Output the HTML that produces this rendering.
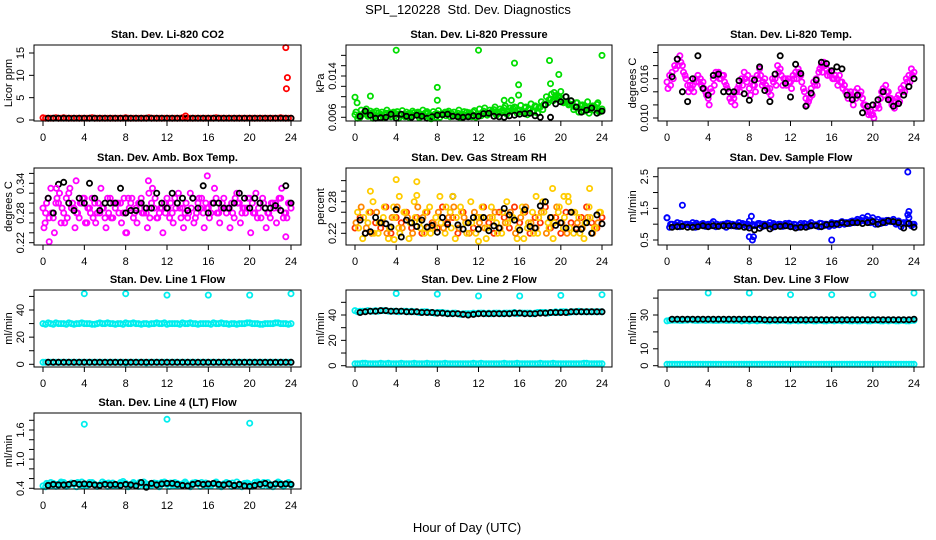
<!DOCTYPE html>
<html><head><meta charset="utf-8"><title>SPL_120228 Std. Dev. Diagnostics</title>
<style>
html,body{margin:0;padding:0;background:#fff;}
svg{display:block;font-family:"Liberation Sans",Arial,sans-serif;}
</style></head>
<body>
<svg id="chart" width="936" height="540" viewBox="0 0 936 540" xmlns="http://www.w3.org/2000/svg">
<rect x="0" y="0" width="936" height="540" fill="#fff"/>
<text x="468" y="14" text-anchor="middle" font-size="13" style="white-space:pre">SPL_120228  Std. Dev. Diagnostics</text>
<text x="467" y="532" text-anchor="middle" font-size="13">Hour of Day (UTC)</text>
</svg>
<script>
// ---- data ----
const xTicks=[0,4,8,12,16,20,24];
// CO2
const co2Red=[0.5,0.4,0.4,0.4,0.5,0.4,0.4,0.4,0.4,0.4,0.4,0.4,0.4,0.4,0.4,0.4,0.5,0.4,0.4,0.4,0.4,0.4,0.4,0.4,0.4,0.4,0.4,0.5,0.4,0.4,0.4,0.4,0.4,0.4,0.4,0.4,0.4,0.4,0.4,0.4,0.4,0.4,0.4,0.4,0.4,0.4,0.5,0.4,0.4];
const co2Red2=[0.4,0.4,0.5,0.4,0.4,0.4,0.4,0.4,0.4,0.5,0.4,0.4,0.4,0.4,0.4,0.4,0.4,0.4,0.4,0.4,0.5,0.4,0.4,0.4,0.4,0.4,0.4,0.4,0.4,0.4,0.4,0.4,0.4,0.5,0.4,0.4,0.4,0.4,0.4,0.4,0.4,0.4,0.4,0.4,0.4,0.4,0.4,0.4];
const co2Black=[0.4,0.4,0.4,0.4,0.4,0.4,0.4,0.4,0.4,0.4,0.4,0.4,0.4,0.4,0.4,0.4,0.4,0.4,0.4,0.4,0.4,0.4,0.4,0.4,0.4,0.4,0.4,0.4,0.4,0.4,0.4,0.4,0.4,0.4,0.4,0.4,0.4,0.4,0.4,0.4,0.4,0.4,0.4,0.4,0.4,0.4,0.4,0.4];
const co2OutHour=[23.5,23.65,23.55,13.8];
const co2OutVal=[16.2,9.5,7.0,0.9];
// Pressure
const presA=[0.0065,0.0060,0.0070,0.0072,0.0062,0.0066,0.0068,0.0061,0.0067,0.0064,0.0070,0.0063,0.0068,0.0066,0.0071,0.0062,0.0067,0.0065,0.0069,0.0063,0.0068,0.0066,0.0064,0.0070,0.0066,0.0072,0.0068,0.0075,0.0070,0.0078,0.0072,0.0080,0.0074,0.0078,0.0076,0.0082,0.0080,0.0085,0.0095,0.0102,0.0110,0.0100,0.0092,0.0088,0.0082,0.0078,0.0080,0.0085,0.0076];
const presB=[0.0058,0.0066,0.0062,0.0058,0.0068,0.0060,0.0063,0.0070,0.0058,0.0064,0.0060,0.0069,0.0059,0.0062,0.0058,0.0066,0.0060,0.0070,0.0061,0.0065,0.0059,0.0062,0.0068,0.0060,0.0063,0.0066,0.0070,0.0064,0.0072,0.0066,0.0074,0.0068,0.0070,0.0065,0.0072,0.0068,0.0075,0.0088,0.0092,0.0098,0.0088,0.0084,0.0075,0.0070,0.0072,0.0068,0.0074,0.0070];
const presC=[0.0070,0.0074,0.0076,0.0068,0.0072,0.0070,0.0074,0.0068,0.0071,0.0073,0.0066,0.0072,0.0070,0.0074,0.0068,0.0071,0.0073,0.0068,0.0072,0.0070,0.0074,0.0071,0.0069,0.0073,0.0076,0.0078,0.0074,0.0080,0.0076,0.0082,0.0078,0.0079,0.0083,0.0080,0.0086,0.0080,0.0090,0.0100,0.0105,0.0096,0.0094,0.0090,0.0085,0.0088,0.0084,0.0090,0.0082,0.0088];
const presD=[0.0062,0.0068,0.0064,0.0070,0.0060,0.0065,0.0069,0.0063,0.0066,0.0061,0.0068,0.0065,0.0062,0.0069,0.0064,0.0060,0.0066,0.0063,0.0068,0.0062,0.0065,0.0070,0.0061,0.0066,0.0069,0.0064,0.0072,0.0067,0.0074,0.0070,0.0077,0.0072,0.0068,0.0075,0.0070,0.0078,0.0085,0.0094,0.0108,0.0100,0.0090,0.0086,0.0080,0.0076,0.0082,0.0075,0.0079,0.0072];
const presBlack=[0.0062,0.0072,0.0064,0.0058,0.0059,0.0060,0.0066,0.0058,0.0066,0.0062,0.0060,0.0064,0.0062,0.0058,0.0061,0.0064,0.0065,0.0066,0.0062,0.0061,0.0060,0.0061,0.0063,0.0062,0.0067,0.0068,0.0062,0.0061,0.0060,0.0063,0.0064,0.0066,0.0067,0.0068,0.0063,0.0060,0.0084,0.0060,0.0086,0.0090,0.0100,0.0092,0.0080,0.0070,0.0074,0.0078,0.0068,0.0072];
const presOutHour=[0,0.2,1.5,4,8,8,12,14.5,15.2,15.5,15.9,15.9,18.9,19,19.8,24,7.4];
const presOutVal=[0.0099,0.0088,0.0101,0.0190,0.0118,0.0093,0.0190,0.0093,0.0093,0.0165,0.0123,0.0103,0.0170,0.0125,0.0143,0.0180,0.0057];
// Li-820 temp
const tempA=[0.0155,0.0170,0.0190,0.0180,0.0150,0.0150,0.0165,0.0155,0.0130,0.0160,0.0170,0.0165,0.0140,0.0130,0.0150,0.0170,0.0145,0.0150,0.0175,0.0160,0.0145,0.0160,0.0175,0.0160,0.0155,0.0170,0.0165,0.0130,0.0145,0.0160,0.0180,0.0175,0.0170,0.0160,0.0155,0.0140,0.0130,0.0145,0.0130,0.0110,0.0105,0.0120,0.0145,0.0140,0.0125,0.0135,0.0150,0.0165,0.0170];
const tempB=[0.0165,0.0180,0.0195,0.0165,0.0150,0.0160,0.0160,0.0140,0.0145,0.0170,0.0160,0.0150,0.0125,0.0140,0.0160,0.0155,0.0160,0.0165,0.0150,0.0145,0.0160,0.0180,0.0150,0.0160,0.0165,0.0175,0.0145,0.0125,0.0155,0.0170,0.0185,0.0170,0.0160,0.0165,0.0150,0.0135,0.0140,0.0135,0.0120,0.0110,0.0115,0.0130,0.0150,0.0130,0.0125,0.0145,0.0160,0.0175];
const tempC=[0.0145,0.0160,0.0180,0.0170,0.0140,0.0140,0.0155,0.0145,0.0120,0.0150,0.0160,0.0155,0.0130,0.0120,0.0140,0.0160,0.0135,0.0140,0.0165,0.0150,0.0135,0.0150,0.0165,0.0150,0.0145,0.0160,0.0155,0.0120,0.0135,0.0150,0.0170,0.0165,0.0160,0.0150,0.0145,0.0130,0.0120,0.0135,0.0120,0.0105,0.0100,0.0115,0.0135,0.0130,0.0115,0.0125,0.0140,0.0155];
const tempD=[0.0150,0.0175,0.0185,0.0160,0.0145,0.0155,0.0150,0.0135,0.0140,0.0165,0.0165,0.0145,0.0135,0.0145,0.0150,0.0165,0.0150,0.0160,0.0155,0.0140,0.0155,0.0170,0.0160,0.0155,0.0160,0.0170,0.0140,0.0130,0.0150,0.0175,0.0180,0.0165,0.0165,0.0155,0.0140,0.0140,0.0130,0.0140,0.0115,0.0105,0.0120,0.0140,0.0140,0.0120,0.0130,0.0140,0.0155,0.0165];
const tempBlack=[0.0163,0.0190,0.0140,0.0125,0.0160,0.0195,0.0145,0.0135,0.0165,0.0167,0.0140,0.0140,0.0140,0.0157,0.0137,0.0127,0.0158,0.0178,0.0142,0.0125,0.0167,0.0195,0.0153,0.0132,0.0182,0.0168,0.0118,0.0138,0.0158,0.0185,0.0183,0.0172,0.0178,0.0175,0.0135,0.0128,0.0135,0.0108,0.0118,0.0120,0.0128,0.0140,0.0128,0.0118,0.0122,0.0135,0.0148,0.0160];
// Amb box temp
const ambA=[0.29,0.31,0.27,0.30,0.28,0.32,0.29,0.27,0.31,0.29,0.30,0.28,0.27,0.31,0.29,0.30,0.28,0.30,0.29,0.31,0.28,0.30,0.27,0.29,0.31,0.28,0.30,0.29,0.27,0.31,0.30,0.28,0.29,0.30,0.28,0.31,0.29,0.27,0.30,0.29,0.31,0.28,0.30,0.29,0.27,0.30,0.31,0.28,0.29];
const ambB=[0.28,0.33,0.30,0.26,0.31,0.29,0.28,0.30,0.26,0.31,0.28,0.29,0.31,0.27,0.30,0.28,0.31,0.27,0.30,0.28,0.32,0.29,0.28,0.30,0.27,0.31,0.29,0.28,0.32,0.27,0.29,0.30,0.28,0.31,0.29,0.28,0.30,0.32,0.28,0.29,0.30,0.27,0.31,0.28,0.30,0.29,0.27,0.30];
const ambC=[0.25,0.27,0.24,0.32,0.26,0.33,0.25,0.30,0.26,0.28,0.26,0.33,0.25,0.27,0.30,0.26,0.24,0.31,0.26,0.28,0.25,0.33,0.27,0.24,0.29,0.26,0.32,0.25,0.28,0.26,0.31,0.25,0.27,0.33,0.26,0.29,0.25,0.31,0.26,0.28,0.24,0.32,0.27,0.25,0.30,0.26,0.33,0.27];
const ambD=[0.30,0.28,0.31,0.29,0.27,0.30,0.28,0.31,0.29,0.27,0.30,0.29,0.28,0.30,0.28,0.31,0.29,0.28,0.30,0.29,0.27,0.31,0.29,0.28,0.30,0.29,0.27,0.30,0.29,0.28,0.31,0.29,0.30,0.28,0.30,0.29,0.28,0.30,0.29,0.31,0.28,0.29,0.30,0.28,0.29,0.31,0.28,0.30];
const ambBlack=[0.31,0.28,0.338,0.342,0.30,0.285,0.31,0.30,0.34,0.31,0.285,0.30,0.30,0.30,0.33,0.28,0.285,0.285,0.30,0.29,0.29,0.32,0.30,0.29,0.32,0.30,0.31,0.285,0.31,0.29,0.335,0.28,0.30,0.30,0.29,0.29,0.30,0.32,0.31,0.29,0.31,0.30,0.29,0.29,0.295,0.285,0.335,0.30];
const ambOutHour=[0.6,15.9,3.2,23.5,8,10.2,0.2,1.3];
const ambOutVal=[0.222,0.355,0.345,0.232,0.24,0.345,0.26,0.33];
// Gas stream RH
const rhRed=[0.23,0.25,0.22,0.26,0.24,0.23,0.27,0.22,0.25,0.24,0.26,0.23,0.25,0.22,0.26,0.24,0.23,0.27,0.24,0.25,0.22,0.26,0.24,0.23,0.25,0.27,0.24,0.22,0.26,0.25,0.23,0.27,0.24,0.26,0.22,0.25,0.24,0.27,0.23,0.25,0.22,0.26,0.24,0.23,0.25,0.27,0.24,0.23,0.25];
const rhYellow=[0.26,0.21,0.24,0.28,0.22,0.25,0.21,0.27,0.23,0.26,0.21,0.28,0.24,0.22,0.27,0.23,0.29,0.22,0.26,0.21,0.27,0.24,0.28,0.22,0.25,0.21,0.27,0.24,0.22,0.28,0.25,0.21,0.27,0.23,0.26,0.22,0.28,0.24,0.21,0.26,0.23,0.28,0.22,0.25,0.21,0.27,0.23,0.26];
const rhOrange=[0.24,0.27,0.23,0.22,0.26,0.24,0.22,0.25,0.27,0.23,0.25,0.22,0.27,0.25,0.23,0.24,0.26,0.23,0.25,0.27,0.23,0.25,0.22,0.26,0.24,0.23,0.25,0.26,0.23,0.24,0.26,0.22,0.25,0.27,0.24,0.23,0.26,0.22,0.25,0.27,0.24,0.22,0.26,0.24,0.23,0.25,0.22,0.24];
const rhYellow2=[0.23,0.25,0.26,0.22,0.24,0.27,0.23,0.25,0.22,0.26,0.24,0.25,0.23,0.26,0.22,0.25,0.24,0.27,0.23,0.25,0.26,0.22,0.24,0.25,0.27,0.23,0.25,0.22,0.26,0.24,0.25,0.23,0.26,0.24,0.22,0.25,0.26,0.23,0.24,0.27,0.25,0.23,0.26,0.22,0.24,0.25,0.23,0.26];
const rhBlack=[0.245,0.22,0.223,0.25,0.24,0.238,0.232,0.265,0.213,0.245,0.24,0.233,0.245,0.232,0.235,0.222,0.25,0.237,0.29,0.236,0.228,0.24,0.25,0.228,0.25,0.225,0.234,0.23,0.267,0.255,0.245,0.226,0.265,0.233,0.23,0.272,0.28,0.25,0.235,0.24,0.23,0.26,0.228,0.228,0.24,0.22,0.255,0.238];
const rhOutHour=[1.5,4,4.3,6,6,9.5,17.6,19.2,20.3,20.7,22.8,12,3.8,16.4];
const rhOutVal=[0.30,0.322,0.29,0.318,0.292,0.29,0.29,0.305,0.29,0.29,0.305,0.205,0.208,0.21];
// Sample flow
const sfA=[1.2,1.0,1.05,0.95,1.0,1.05,0.98,1.02,1.0,1.08,0.95,1.0,1.02,0.98,1.05,1.0,1.1,0.95,1.02,1.0,1.05,0.98,1.0,1.02,1.0,0.98,1.02,1.0,1.05,0.98,1.02,1.0,1.05,1.02,1.08,1.05,1.1,1.15,1.2,1.25,1.2,1.15,1.1,1.12,1.15,1.1,1.05,1.2,1.0];
const sfB=[0.9,0.95,0.92,0.98,0.95,0.9,0.97,0.93,0.95,0.92,0.98,0.9,0.95,0.93,0.97,0.92,0.95,0.98,0.92,0.95,0.9,0.96,0.93,0.95,0.92,0.9,0.95,0.93,0.97,0.92,0.95,0.93,0.96,0.98,1.0,1.02,1.05,1.08,1.1,1.05,1.0,1.02,1.05,1.08,1.0,0.92,1.05,0.95];
const sfC=[1.0,0.98,1.02,1.0,0.97,1.03,1.0,0.98,1.02,1.0,0.97,1.03,1.0,0.98,1.02,1.0,0.99,1.02,1.0,0.97,1.02,1.0,0.98,1.03,1.0,0.97,1.02,1.0,0.98,1.03,1.0,0.98,1.02,1.05,1.05,1.08,1.1,1.12,1.15,1.12,1.08,1.1,1.12,1.1,1.05,1.0,1.02,1.0];
const sfBlack=[0.9,0.92,0.93,0.9,0.9,0.92,0.95,0.92,0.95,0.93,0.95,0.95,0.95,0.93,0.9,0.88,0.82,0.87,0.95,0.85,0.92,0.93,0.95,0.92,0.88,0.9,0.9,0.95,0.95,0.92,0.98,1.0,1.0,1.05,1.02,1.05,1.05,1.02,1.05,1.08,1.0,1.05,1.1,1.08,1.05,0.88,1.02,0.9];
const sfOutHour=[0,1.5,8,8.3,8.4,16,23.4,23.5,23.4,8.2];
const sfOutVal=[1.2,1.6,0.6,0.5,0.6,0.5,2.65,1.4,1.3,1.25];
// Line 1 flow
const l1High=[30,30.5,29.5,30,30,30.5,29.5,30,30,30,29.5,30.5,30,30,29.5,30,30.5,30,30,29.5,30,30,30.5,30,29.5,30,30,30.5,30,30,29.5,30,30,30.5,30,30,29.5,30,30,30,30.5,30,29.5,30,30,30.5,30,30,30];
const l1High2=[29.5,30,30.5,30,29.5,30,30,30.5,30,29.5,30,30,30.5,30,30,29.5,30,30.5,30,30,29.5,30,30,30.5,30,30,29.5,30,30.5,30,30,30,29.5,30,30.5,30,30,29.5,30,30.5,30,30,29.5,30,30,30.5,30,29.5];
const l1Low=[1.5,1.5,1.5,1.5,1.5,1.5,1.5,1.5,1.5,1.5,1.5,1.5,1.5,1.5,1.5,1.5,1.0,1.5,1.5,1.5,1.0,1.5,1.5,1.5,1.5,1.5,1.5,1.5,1.5,1.5,1.5,1.5,1.5,1.5,1.5,1.5,1.5,1.5,1.5,1.5,1.5,1.5,1.5,1.5,1.5,1.5,1.5,1.5,1.5];
const l1Low2=[1.5,1.5,1.5,1.5,1.5,1.5,1.5,1.5,1.5,1.5,1.5,1.5,1.5,1.5,1.5,1.5,1.5,1.5,1.5,1.5,1.5,1.5,1.5,1.5,1.5,1.5,1.5,1.5,1.5,1.5,1.5,1.5,1.5,1.5,1.5,1.5,1.5,1.5,1.5,1.5,1.5,1.5,1.5,1.5,1.5,1.5,1.5,1.5];
const l1Black=[1.5,1.5,1.5,1.5,1.5,1.5,1.5,1.5,1.5,1.5,1.5,1.5,1.5,1.5,1.5,1.5,1.5,1.5,1.5,1.5,1.5,1.5,1.5,1.5,1.5,1.5,1.5,1.5,1.5,1.5,1.5,1.5,1.5,1.5,1.5,1.5,1.5,1.5,1.5,1.5,1.5,1.5,1.5,1.5,1.5,1.5,1.5,1.5];
const l1OutHour=[4,8,12,16,20,24];
const l1OutVal=[52,52,51,51,51,52];
// Line 2 flow
const l2High=[43.5,43,43,43,43.5,43.5,43.5,43,43,43,43,43,42.5,42.5,42.5,42,42,42,41.5,41.5,41,41,41,41.5,41.5,41.5,41.5,41.5,41.5,41.5,41.5,42,41.5,41.5,41.5,41.5,42,42,42,42.5,42.5,42.5,42.5,42.5,42.5,42.5,42.5,42.5,42.5];
const l2High2=[42.5,43,43.5,43,43,43.5,43,43,42.5,43,42.5,42.5,42,42.5,42,41.5,42,41.5,41,41.5,40.5,41,41,41,41.5,41,41,41.5,41,41.5,41.5,41,41.5,41.5,41,42,42,41.5,42,42,42.5,42,42.5,43,42.5,42.5,42.5,42.5];
const l2Low=[1.5,1.5,2,1.5,1.5,2,1.5,1.5,1.5,2,1.5,1.5,1.5,1.5,2,1.5,1.5,1.5,1.5,1.5,1.5,1.5,1.5,2,1.5,1.5,1.5,1.5,1.5,2,1.5,1.5,1.5,1.5,1.5,1.5,2,1.5,1.5,1.5,1.5,1.5,1.5,1.5,1.5,2,1.5,1.5,1.5];
const l2Low2=[1.5,2,1.5,1.5,1.5,1.5,2,1.5,1.5,1.5,1.5,2,1.5,1.5,1.5,1.5,1.5,2,1.5,1.5,1.5,1.5,1.5,1.5,2,1.5,1.5,1.5,1.5,1.5,1.5,2,1.5,1.5,1.5,1.5,1.5,1.5,2,1.5,1.5,1.5,1.5,1.5,2,1.5,1.5,1.5];
const l2Black=[42,42.5,43,43,43.5,43.5,43,43,43,42.5,42.5,42.5,42,42,42,41.5,41.5,41,41,41,40.5,40,40.5,41,41,41,41,41,41,41,41.5,41.5,41,41,41,41.5,41.5,42,42,42,42,42.5,42.5,42.5,42.5,42.5,42.5,42.5];
const l2OutHour=[4,8,12,16,20,24];
const l2OutVal=[57,56.5,55,55,55.5,56];
// Line 3 flow
const l3High=[26.5,27,27,26.8,27,27,26.8,27,27,26.8,26.8,27,26.8,26.8,27,26.8,26.5,26.8,26.8,26.8,26.5,26.8,26.8,26.8,26.5,26.8,26.8,26.5,26.8,26.5,26.8,26.5,26.8,26.8,26.5,26.8,26.5,26.5,26.8,26.5,26.8,26.8,26.5,26.5,26.8,26.5,26.8,26.5,26.8];
const l3High2=[26.8,27,26.8,27,27.2,26.8,27,26.8,27,26.8,27,26.8,27,26.8,26.5,26.8,26.8,26.5,26.8,26.5,26.8,26.5,26.8,26.5,26.8,26.5,26.8,26.8,26.5,26.8,26.5,26.8,26.5,26.8,26.8,26.5,26.8,26.5,26.8,26.5,26.8,26.5,26.8,26.8,26.5,26.8,26.5,26.8];
const l3Low=[0.8,0.8,0.8,0.8,0.8,0.8,0.8,0.8,0.8,0.8,0.8,0.8,0.8,0.8,0.8,0.8,0.8,0.8,0.8,0.8,0.8,0.8,0.8,0.8,0.8,0.8,0.8,0.8,0.8,0.8,0.8,0.8,0.8,0.8,0.8,0.8,0.8,0.8,0.8,0.8,0.8,0.8,0.8,0.8,0.8,0.8,0.8,0.8,0.8];
const l3Low2=[0.8,0.8,0.8,0.8,0.8,0.8,0.8,0.8,0.8,0.8,0.8,0.8,0.8,0.8,0.8,0.8,0.8,0.8,0.8,0.8,0.8,0.8,0.8,0.8,0.8,0.8,0.8,0.8,0.8,0.8,0.8,0.8,0.8,0.8,0.8,0.8,0.8,0.8,0.8,0.8,0.8,0.8,0.8,0.8,0.8,0.8,0.8,0.8];
const l3Black=[27.5,27.5,27.5,27.5,27.5,27.5,27.5,27.5,27.5,27.5,27.5,27.5,27.5,27.5,27.5,27.5,27.5,27.5,27.2,27.2,27.2,27.2,27.2,27.2,27.2,27.2,27.2,27.2,27.2,27.2,27.2,27.2,27.2,27.2,27.2,27.2,27.2,27.2,27.2,27.2,27.2,27.2,27.2,27.2,27.2,27.2,27.2,27.5];
const l3OutHour=[4,8,12,16,20,24];
const l3OutVal=[43,43,42,42,42,43];
// Line 4 flow
const l4A=[0.45,0.48,0.5,0.46,0.52,0.47,0.49,0.5,0.46,0.52,0.48,0.47,0.5,0.49,0.46,0.52,0.5,0.48,0.47,0.51,0.49,0.46,0.5,0.52,0.48,0.47,0.5,0.49,0.46,0.51,0.5,0.48,0.47,0.5,0.45,0.49,0.5,0.46,0.48,0.5,0.47,0.52,0.49,0.5,0.46,0.48,0.5,0.49,0.47];
const l4B=[0.43,0.52,0.44,0.53,0.44,0.51,0.43,0.53,0.45,0.52,0.44,0.53,0.44,0.51,0.45,0.54,0.43,0.52,0.44,0.53,0.45,0.51,0.43,0.53,0.44,0.52,0.45,0.53,0.43,0.52,0.44,0.51,0.45,0.53,0.43,0.52,0.44,0.53,0.43,0.51,0.44,0.53,0.45,0.52,0.43,0.53,0.44,0.52];
const l4C=[0.5,0.45,0.48,0.51,0.46,0.49,0.52,0.45,0.48,0.5,0.46,0.49,0.51,0.45,0.48,0.5,0.46,0.49,0.52,0.45,0.48,0.5,0.46,0.49,0.51,0.45,0.48,0.5,0.46,0.49,0.52,0.45,0.48,0.5,0.46,0.49,0.51,0.45,0.48,0.5,0.46,0.49,0.52,0.45,0.48,0.5,0.46,0.49];
const l4Black=[0.46,0.48,0.47,0.47,0.48,0.5,0.48,0.49,0.48,0.47,0.46,0.48,0.47,0.48,0.46,0.48,0.47,0.45,0.52,0.42,0.5,0.47,0.49,0.5,0.5,0.48,0.46,0.45,0.48,0.5,0.48,0.49,0.5,0.48,0.47,0.49,0.46,0.48,0.45,0.44,0.46,0.48,0.5,0.47,0.49,0.48,0.49,0.48];
const l4OutHour=[4,12,20];
const l4OutVal=[1.72,1.82,1.74];

// ---- layout ----
const cols=[{L:34,R:301},{L:346,R:612},{L:658,R:924}];
const rows=[{T:45,B:121},{T:168,B:245},{T:290,B:367},{T:413,B:489}];
const NS='http://www.w3.org/2000/svg';
const svg=document.getElementById('chart');
function mk(tag,attrs,parent){const e=document.createElementNS(NS,tag);for(const k in attrs)e.setAttribute(k,attrs[k]);(parent||svg).appendChild(e);return e;}

const CY='#00eeee';
const panels=[
 {name:'co2',title:'Stan. Dev. Li-820 CO2',ylab:'Licor ppm',c:0,r:0,y0:0,py0:120,y1:15,py1:53,ticks:[0,5,10,15],labels:['0','5','10','15'],
  series:[{v:co2Red,s:0,d:0.5,col:'#ff0000'},{v:co2Red2,s:0.25,d:0.5,col:'#ff0000'},{v:co2Black,s:0.5,d:0.5,col:'#000'}],out:{h:co2OutHour,v:co2OutVal,col:'#ff0000'}},
 {name:'pressure',title:'Stan. Dev. Li-820 Pressure',ylab:'kPa',c:1,r:0,y0:0.006,py0:117.3,y1:0.014,py1:76,ticks:[0.006,0.008,0.010,0.012,0.014,0.016,0.018],labels:['0.006','','','','0.014','',''],
  series:[{v:presA,s:0,d:0.5,col:'#00dd00'},{v:presB,s:0.25,d:0.5,col:'#00dd00'},{v:presC,s:0.1,d:0.5,col:'#00dd00'},{v:presD,s:0.35,d:0.5,col:'#00dd00'},{v:presBlack,s:0.5,d:0.5,col:'#000'}],out:{h:presOutHour,v:presOutVal,col:'#00dd00'}},
 {name:'li820-temp',title:'Stan. Dev. Li-820 Temp.',ylab:'degrees C',c:2,r:0,y0:0.010,py0:118,y1:0.016,py1:78.7,ticks:[0.010,0.012,0.014,0.016,0.018,0.020],labels:['0.010','','','0.016','',''],
  series:[{v:tempA,s:0,d:0.5,col:'#ff00ff'},{v:tempB,s:0.25,d:0.5,col:'#ff00ff'},{v:tempC,s:0.1,d:0.5,col:'#ff00ff'},{v:tempD,s:0.35,d:0.5,col:'#ff00ff'},{v:tempBlack,s:0.5,d:0.5,col:'#000'}],out:null},
 {name:'amb-box-temp',title:'Stan. Dev. Amb. Box Temp.',ylab:'degrees C',c:0,r:1,y0:0.22,py0:242.7,y1:0.34,py1:183.3,ticks:[0.22,0.24,0.26,0.28,0.30,0.32,0.34,0.36],labels:['0.22','','','0.28','','','0.34',''],
  series:[{v:ambA,s:0,d:0.5,col:'#ff00ff'},{v:ambB,s:0.25,d:0.5,col:'#ff00ff'},{v:ambC,s:0.1,d:0.5,col:'#ff00ff'},{v:ambD,s:0.35,d:0.5,col:'#ff00ff'},{v:ambBlack,s:0.5,d:0.5,col:'#000'}],out:{h:ambOutHour,v:ambOutVal,col:'#ff00ff'}},
 {name:'gas-stream-rh',title:'Stan. Dev. Gas Stream RH',ylab:'percent',c:1,r:1,y0:0.22,py0:233.3,y1:0.28,py1:201.7,ticks:[0.22,0.24,0.26,0.28,0.30,0.32],labels:['0.22','','','0.28','',''],
  series:[{v:rhRed,s:0,d:0.5,col:'#ff3300'},{v:rhYellow,s:0.25,d:0.5,col:'#ffcc00'},{v:rhOrange,s:0.1,d:0.5,col:'#ff8800'},{v:rhYellow2,s:0.35,d:0.5,col:'#ffcc00'},{v:rhBlack,s:0.5,d:0.5,col:'#000'}],out:{h:rhOutHour,v:rhOutVal,col:'#ffcc00'}},
 {name:'sample-flow',title:'Stan. Dev. Sample Flow',ylab:'ml/min',c:2,r:1,y0:0.5,py0:240,y1:2.5,py1:176.7,ticks:[0.5,1.0,1.5,2.0,2.5],labels:['0.5','','1.5','','2.5'],
  series:[{v:sfA,s:0,d:0.5,col:'#0000ff'},{v:sfB,s:0.25,d:0.5,col:'#0000ff'},{v:sfC,s:0.35,d:0.5,col:'#0000ff'},{v:sfBlack,s:0.5,d:0.5,col:'#000'}],out:{h:sfOutHour,v:sfOutVal,col:'#0000ff'}},
 {name:'line1-flow',title:'Stan. Dev. Line 1 Flow',ylab:'ml/min',c:0,r:2,y0:0,py0:364.3,y1:40,py1:310,ticks:[0,10,20,30,40,50],labels:['0','','20','','40',''],
  series:[{v:l1High,s:0,d:0.5,col:CY},{v:l1High2,s:0.25,d:0.5,col:CY},{v:l1Low,s:0,d:0.5,col:CY},{v:l1Low2,s:0.25,d:0.5,col:CY},{v:l1Black,s:0.5,d:0.5,col:'#000'}],out:{h:l1OutHour,v:l1OutVal,col:CY}},
 {name:'line2-flow',title:'Stan. Dev. Line 2 Flow',ylab:'ml/min',c:1,r:2,y0:0,py0:365.7,y1:40,py1:315,ticks:[0,10,20,30,40,50],labels:['0','','20','','40',''],
  series:[{v:l2High,s:0,d:0.5,col:CY},{v:l2High2,s:0.25,d:0.5,col:CY},{v:l2Low,s:0,d:0.5,col:CY},{v:l2Low2,s:0.25,d:0.5,col:CY},{v:l2Black,s:0.5,d:0.5,col:'#000'}],out:{h:l2OutHour,v:l2OutVal,col:CY}},
 {name:'line3-flow',title:'Stan. Dev. Line 3 Flow',ylab:'ml/min',c:2,r:2,y0:0,py0:365.7,y1:30,py1:315,ticks:[0,10,20,30,40],labels:['0','10','','30',''],
  series:[{v:l3High,s:0,d:0.5,col:CY},{v:l3High2,s:0.25,d:0.5,col:CY},{v:l3Low,s:0,d:0.5,col:CY},{v:l3Low2,s:0.25,d:0.5,col:CY},{v:l3Black,s:0.5,d:0.5,col:'#000'}],out:{h:l3OutHour,v:l3OutVal,col:CY}},
 {name:'line4-flow',title:'Stan. Dev. Line 4 (LT) Flow',ylab:'ml/min',c:0,r:3,y0:0.4,py0:488.3,y1:1.6,py1:430,ticks:[0.4,0.6,0.8,1.0,1.2,1.4,1.6,1.8],labels:['0.4','','','1.0','','','1.6',''],
  series:[{v:l4A,s:0,d:0.5,col:CY},{v:l4B,s:0.25,d:0.5,col:CY},{v:l4C,s:0.35,d:0.5,col:CY},{v:l4Black,s:0.5,d:0.5,col:'#000'}],out:{h:l4OutHour,v:l4OutVal,col:CY}}
];

panels.forEach(p=>{
  const col=cols[p.c], row=rows[p.r];
  const x0=col.L+9, x24=col.R-10;
  const xs=h=>x0+(h/24)*(x24-x0);
  const ys=v=>p.py0+(v-p.y0)*(p.py1-p.py0)/(p.y1-p.y0);
  const g=mk('g',{});
  
  
  const t=mk('text',{x:(col.L+col.R)/2,y:row.T-7,'text-anchor':'middle','font-size':11,'font-weight':'bold'},g);
  t.textContent=p.title;
  
  
  const pg=mk('g',{fill:'none','stroke-width':1.8},g);
  
  
  const drawPt=(h,v,c)=>{
    const e=mk('circle',{cx:xs(h).toFixed(1),cy:ys(v).toFixed(1),r:2.6,stroke:c},pg);
    
    
  };
  p.series.forEach(s=>{s.v.forEach((v,i)=>drawPt(s.s+i*s.d,v,s.col));});
  if(p.out){p.out.h.forEach((h,i)=>drawPt(h,p.out.v[i],p.out.col));}
  const b=mk('rect',{x:col.L,y:row.T,width:col.R-col.L,height:row.B-row.T,fill:'none',stroke:'#000','stroke-width':1},g);
  
  
  const xa=mk('g',{},g);
  
  
  xTicks.forEach(h=>{
    mk('line',{x1:xs(h),x2:xs(h),y1:row.B,y2:row.B+5,stroke:'#000'},xa);
    const l=mk('text',{x:xs(h),y:row.B+20,'text-anchor':'middle','font-size':11},xa);
    l.textContent=h;
    
    
  });
  const ya=mk('g',{},g);
  
  
  p.ticks.forEach((v,i)=>{
    const y=ys(v);
    mk('line',{x1:col.L-5,x2:col.L,y1:y,y2:y,stroke:'#000'},ya);
    if(p.labels[i]){
      const l=mk('text',{x:col.L-10,y:y,'text-anchor':'middle','font-size':11,transform:`rotate(-90 ${col.L-10} ${y})`},ya);
      l.textContent=p.labels[i];
      
      
    }
  });
  const yl=mk('text',{x:col.L-22,y:(row.T+row.B)/2,'text-anchor':'middle','font-size':11,transform:`rotate(-90 ${col.L-22} ${(row.T+row.B)/2})`},ya);
  yl.textContent=p.ylab;
  
  
});
</script>
</body></html>
